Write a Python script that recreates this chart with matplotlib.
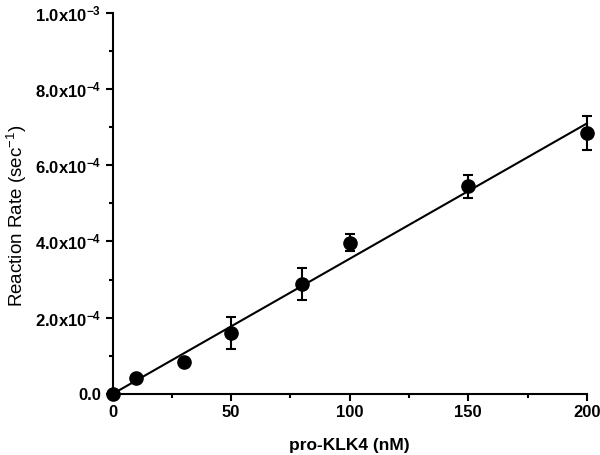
import numpy as np
import matplotlib
matplotlib.use("Agg")
import matplotlib.pyplot as plt
from matplotlib.ticker import FixedLocator, MultipleLocator

plt.rcParams['font.family'] = ['Liberation Sans', 'DejaVu Sans']
plt.rcParams['mathtext.fontset'] = 'custom'
plt.rcParams['mathtext.rm'] = 'Liberation Sans:bold'
plt.rcParams['mathtext.it'] = 'Liberation Sans:bold'
plt.rcParams['mathtext.bf'] = 'Liberation Sans:bold'

# Data
conc = [0, 10, 30, 50, 80, 100, 150, 200]
rate = [0.0, 4.2e-5, 8.4e-5, 1.6e-4, 2.89e-4, 3.97e-4, 5.44e-4, 6.84e-4]
err = [0.0, 0.0, 0.0, 4.1e-5, 4.2e-5, 2.3e-5, 2.9e-5, 4.5e-5]
yticks = [0.0, 2e-4, 4e-4, 6e-4, 8e-4, 1e-3]
ytick_labels = ['0.0', '2.0x10$^{-4}$', '4.0x10$^{-4}$', '6.0x10$^{-4}$',
                '8.0x10$^{-4}$', '1.0x10$^{-3}$']
xticks = [0, 50, 100, 150, 200]

x = np.array(conc, dtype=float)
y = np.array(rate)
slope = np.sum(x * y) / np.sum(x * x)  # linear fit through origin

fig = plt.figure(figsize=(6.0, 4.55), dpi=100)
ax = fig.add_axes([0.1875, 0.134, 0.7905, 0.8385])

xx = np.array([0, 200])
ax.plot(xx, slope * xx, color='black', lw=1.5, zorder=2, clip_on=False)
ax.errorbar(x, y, yerr=err, fmt='o', color='black', ms=9.5, capsize=3.5,
            elinewidth=1.5, capthick=1.5, zorder=3, clip_on=False)

ax.set_xlim(0, 200)
ax.set_ylim(0, 1e-3)
ax.xaxis.set_major_locator(FixedLocator(xticks))
ax.xaxis.set_minor_locator(MultipleLocator(25))
ax.yaxis.set_major_locator(FixedLocator(yticks))
ax.yaxis.set_minor_locator(MultipleLocator(1e-4))
ax.set_yticklabels(ytick_labels)
ax.set_xticklabels([str(t) for t in xticks])

for s in ['top', 'right']:
    ax.spines[s].set_visible(False)
for s in ['left', 'bottom']:
    ax.spines[s].set_linewidth(1.5)

ax.tick_params(which='major', direction='out', length=5, width=1.5,
               labelsize=12, pad=3)
ax.tick_params(which='minor', direction='out', length=3, width=1.5)
for lbl in ax.get_xticklabels() + ax.get_yticklabels():
    lbl.set_fontweight('bold')

ax.set_xlabel('pro-KLK4 (nM)', fontsize=12.5, fontweight='bold')
ax.xaxis.set_label_coords(0.5, -0.115)
ax.set_ylabel(r'Reaction Rate (sec$\mathregular{^{-1}}$)', fontsize=13.5,
              fontweight='normal')
ax.yaxis.set_label_coords(-0.177, 0.467)

fig.savefig('out.png', dpi=100)
